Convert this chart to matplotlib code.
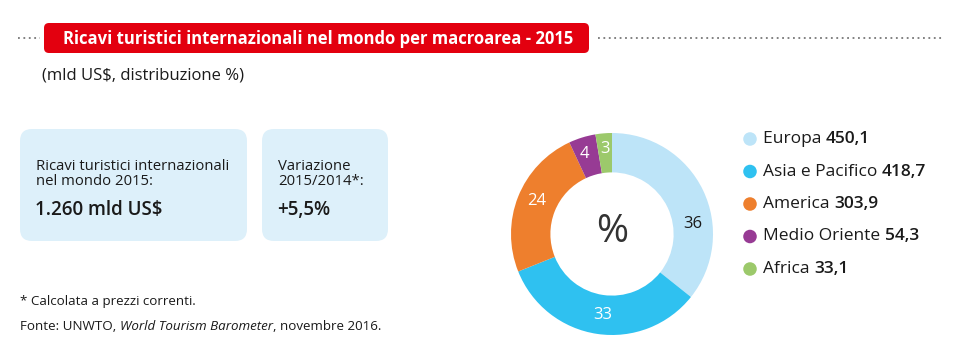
"""Ricavi turistici internazionali per macroarea - 2015 (donut + riquadri)."""

import matplotlib

matplotlib.use("Agg")
import matplotlib.pyplot as plt
from matplotlib.patches import FancyBboxPatch
import numpy as np

regions = ["Europa", "Asia e Pacifico", "America", "Medio Oriente", "Africa"]
revenues = [450.1, 418.7, 303.9, 54.3, 33.1]
value_labels = ["450,1", "418,7", "303,9", "54,3", "33,1"]
colors = ["#bde4f8", "#2fc1f0", "#ee7f2d", "#973b94", "#9cc96b"]

title = "Ricavi turistici internazionali nel mondo per macroarea - 2015"
subtitle = "(mld US$, distribuzione %)"
box_texts = [
    ("Ricavi turistici internazionali\nnel mondo 2015:", "1.260 mld US$"),
    ("Variazione\n2015/2014*:", "+5,5%"),
]

W, H = 960, 359
BODY = ["Open Sans", "DejaVu Sans"]
DARK = "#1a1a1a"

fig = plt.figure(figsize=(W / 100, H / 100), dpi=100)
bg = fig.add_axes([0, 0, 1, 1])
bg.set_xlim(0, W)
bg.set_ylim(H, 0)
bg.axis("off")

# header: red tab + dotted rule
bg.plot([18, 40], [38, 38], ls=(0, (1, 2)), color="#777777", lw=1.3)
bg.plot([598, 942], [38, 38], ls=(0, (1, 2)), color="#777777", lw=1.3)
bg.add_patch(FancyBboxPatch((44, 23), 545, 30, boxstyle="round,pad=0,rounding_size=5",
                            fc="#e3000f", ec="none"))
bg.text(318, 38.5, title, color="white", fontsize=12, fontweight="bold",
        family=BODY, ha="center", va="center")
bg.text(42, 75, subtitle, fontsize=12, family=BODY, color=DARK, va="center")

# info boxes
for (x0, x1), (label, value) in zip([(20, 247), (262, 388)], box_texts):
    bg.add_patch(FancyBboxPatch((x0, 129), x1 - x0, 112,
                                boxstyle="round,pad=0,rounding_size=12",
                                fc="#ddf0fa", ec="none"))
    bg.text(x0 + 16, 159, label, fontsize=10.7, family=BODY, color=DARK,
            va="top", linespacing=1.0)
    bg.text(x0 + 15, 210, value, fontsize=13.5, family=BODY, color=DARK,
            fontweight="semibold", va="center")

# footnotes
bg.text(20, 302, "* Calcolata a prezzi correnti.", fontsize=9.6, family=BODY,
        color=DARK, va="center")
src = bg.text(20, 326, "Fonte: UNWTO, ", fontsize=9.6, family=BODY, color=DARK,
              va="center")
src2 = bg.annotate("World Tourism Barometer", xycoords=src, xy=(1, 0.5), va="center",
                   fontsize=9.6, family=BODY, color=DARK, style="italic")
bg.annotate(", novembre 2016.", xycoords=src2, xy=(1, 0.5), va="center",
            fontsize=9.6, family=BODY, color=DARK)

# donut
cx, cy, r = 612, 234, 101
ax = fig.add_axes([(cx - r) / W, (H - cy - r) / H, 2 * r / W, 2 * r / H])
wedges, _ = ax.pie(revenues, colors=colors, startangle=90, counterclock=False,
                   radius=1, wedgeprops=dict(width=0.39, edgecolor="none"))
ax.set_xlim(-1, 1)
ax.set_ylim(-1, 1)
ax.set_aspect("equal")
ax.text(0, 0.02, "%", fontsize=28, family=BODY, color="#333333", ha="center",
        va="center")

shares = np.array(revenues) / sum(revenues) * 100
angle_shift = [-19, 2, -2, 2, 0]  # label placement tweaks
label_radius = [0.81, 0.81, 0.81, 0.84, 0.84]
for w, s, shift, lr, c in zip(wedges, shares, angle_shift, label_radius, colors):
    ang = np.deg2rad((w.theta1 + w.theta2) / 2 + shift)
    txt_color = DARK if c == colors[0] else "white"
    ax.text(lr * np.cos(ang), lr * np.sin(ang), f"{s:.0f}", ha="center",
            va="center", fontsize=12, family=BODY, color=txt_color)

# legend
for i, (name, val, c) in enumerate(zip(regions, value_labels, colors)):
    y = 139 + i * 32.5
    bg.scatter([750], [y], s=95, color=c, edgecolors="none")
    t = bg.text(763, y, name + " ", fontsize=12.5, family=BODY, color=DARK,
                va="center")
    bg.annotate(val, xycoords=t, xy=(1, 0.5), va="center", fontsize=12.5,
                family=BODY, color=DARK, fontweight="semibold")

fig.savefig("out.png", dpi=100)
